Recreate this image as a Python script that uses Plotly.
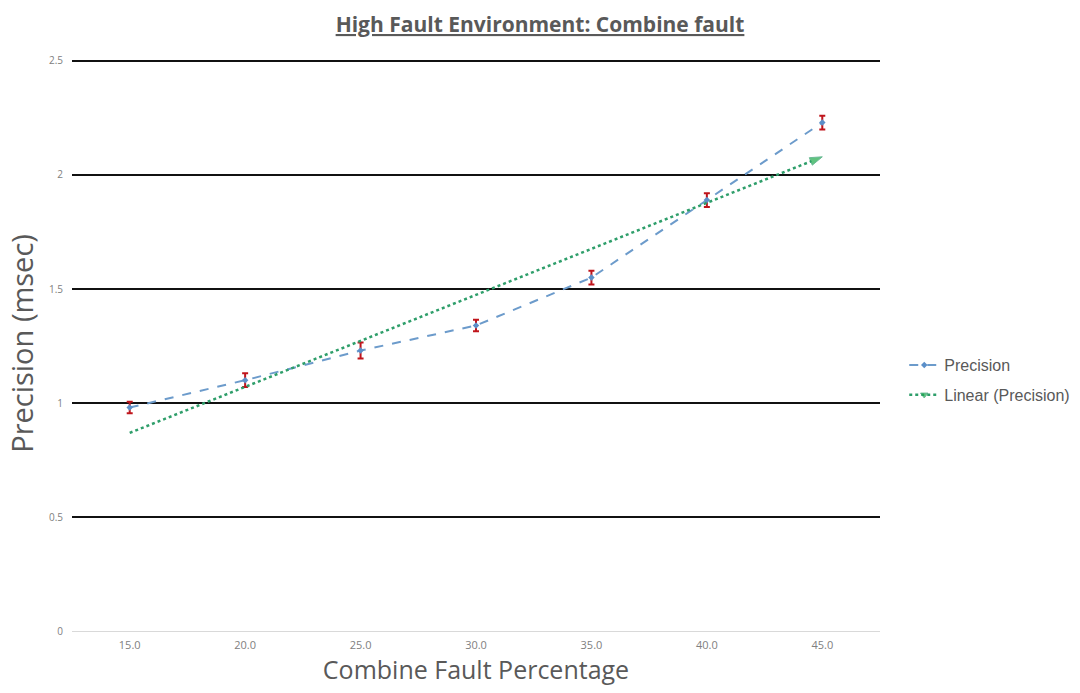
import numpy as np
import plotly.graph_objects as go

categories = ["15.0", "20.0", "25.0", "30.0", "35.0", "40.0", "45.0"]
precision = [0.98, 1.10, 1.23, 1.34, 1.55, 1.89, 2.23]
error = [0.025, 0.03, 0.035, 0.025, 0.03, 0.03, 0.03]
y_ticks = [0, 0.5, 1, 1.5, 2, 2.5]
y_tick_labels = ["0", "0.5", "1", "1.5", "2", "2.5"]

idx = np.arange(len(categories))
slope, intercept = np.polyfit(idx, precision, 1)
trend = slope * idx + intercept

fig = go.Figure()

fig.add_trace(go.Scatter(
    x=categories, y=precision, mode="lines+markers", name="Precision",
    legendgroup="a",
    line=dict(color="#6C9BCB", width=2, dash="dash"),
    marker=dict(color="#5B8FC9", size=5, symbol="diamond"),
    error_y=dict(type="data", array=error, color="#C0141B", thickness=2, width=3),
))

fig.add_trace(go.Scatter(
    x=[categories[0], categories[-1]], y=[trend[0], trend[-1]],
    mode="lines+markers", name="Linear (Precision)",
    legendgroup="b",
    line=dict(color="#2E9E6A", width=2.5, dash="dot"),
    marker=dict(symbol=["triangle-right", "arrow"], size=[0, 13], color="#1DAA4A",
                angleref="previous"),
))

grid_color = "#111111"
fig.update_layout(
    width=1080, height=693,
    margin=dict(l=72, r=200, t=56, b=62, autoexpand=False),
    paper_bgcolor="white", plot_bgcolor="white",
    title=dict(text="<b><u>High Fault Environment: Combine fault</u></b>",
               x=0.5, xref="container", xanchor="center", y=0.975, yanchor="top",
               font=dict(family="Open Sans", size=21, color="#595959")),
    xaxis=dict(type="category", range=[-0.5, 6.5], showgrid=False,
               tickfont=dict(family="Open Sans", size=11, color="#808080"),
               ticklabelstandoff=6,
               title=dict(text="Combine Fault Percentage",
                          font=dict(family="Open Sans", size=25, color="#595959"),
                          standoff=10),
               ticks="", showline=False, zeroline=False),
    yaxis=dict(range=[0, 2.5219], tickvals=y_ticks, ticktext=y_tick_labels,
               showgrid=True, gridcolor=grid_color, gridwidth=2,
               zeroline=True, zerolinecolor="#D9D9D9", zerolinewidth=1,
               tickfont=dict(family="Open Sans", size=10, color="#808080"),
               ticklabelstandoff=8,
               title=dict(text="Precision (msec)",
                          font=dict(family="Open Sans", size=29, color="#595959"),
                          standoff=6)),
    legend=dict(x=1.03, xanchor="left", y=0.4365, yanchor="middle",
                font=dict(family="Liberation Sans", size=16, color="#595959"),
                tracegroupgap=6, itemwidth=30),
    showlegend=True,
)

fig.write_html("out.html")
